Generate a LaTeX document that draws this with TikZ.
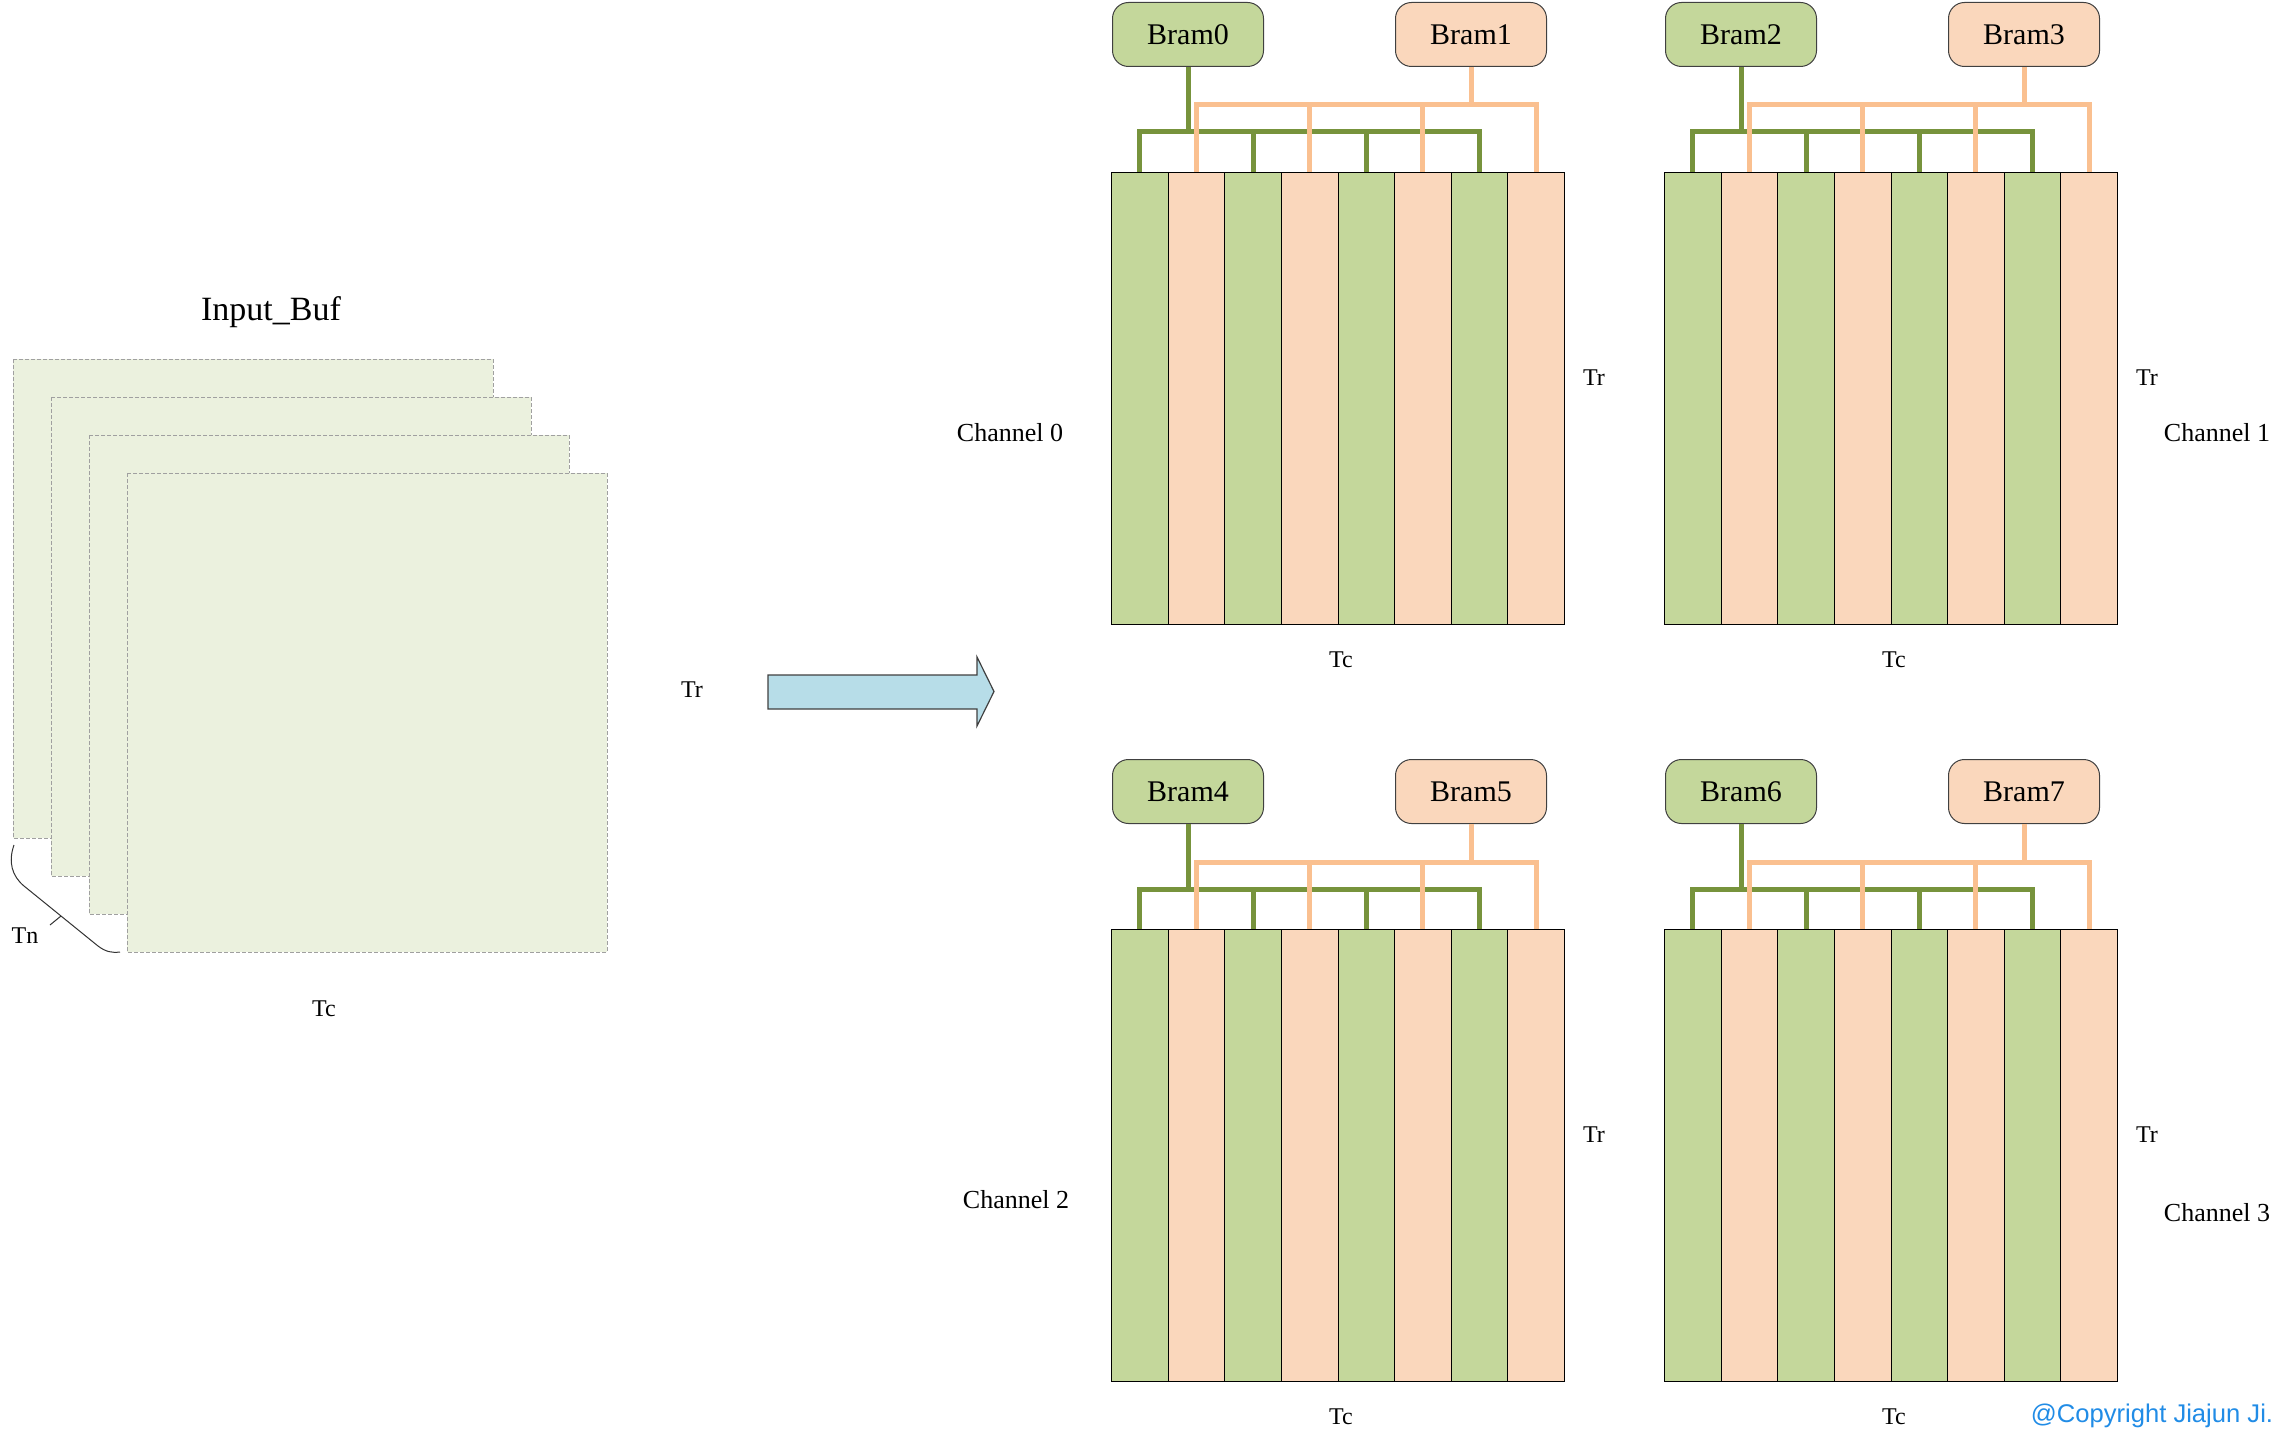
\documentclass[tikz,border=0pt]{standalone}
\usepackage{fontspec}
\setmainfont{Liberation Serif}
\newfontfamily\copyfont{Liberation Sans}
\definecolor{bufgreen}{RGB}{235,241,222}
\definecolor{bufgray}{RGB}{160,160,160}
\definecolor{cellgreen}{RGB}{196,215,155}
\definecolor{cellorange}{RGB}{250,215,188}
\definecolor{linegreen}{RGB}{119,147,60}
\definecolor{lineorange}{RGB}{250,192,144}
\definecolor{arrowblue}{RGB}{183,221,232}
\definecolor{copyblue}{RGB}{33,140,230}
\newcommand\quadblock[5]{%
  % #1 gx, #2 gy, #3 prefix, #4 green bram text, #5 orange bram text
  \foreach \i in {0,...,7}{%
    \pgfmathtruncatemacro\cellpar{mod(\i,2)}%
    \ifnum\cellpar=0
      \node[gcell] (#3c\i) at ({#1+\i*56.625},#2) {};
    \else
      \node[ocell] (#3c\i) at ({#1+\i*56.625},#2) {};
    \fi
  }
  \node[bramg] (#3a) at ({#1+1},{#2-170}) {#4};
  \node[bramo] (#3b) at ({#1+284},{#2-170}) {#5};
  \coordinate (#3gh) at (#1,{#2-40});
  \coordinate (#3oh) at (#1,{#2-67});
  \draw[gline] (#3a.south) -- (#3a.south |- #3gh);
  \draw[gline] (#3c0.north) -- (#3c0.north |- #3gh) -- (#3c6.north |- #3gh) -- (#3c6.north);
  \draw[gline] (#3c2.north) -- (#3c2.north |- #3gh);
  \draw[gline] (#3c4.north) -- (#3c4.north |- #3gh);
  \draw[oline] (#3b.south) -- (#3b.south |- #3oh);
  \draw[oline] (#3c1.north) -- (#3c1.north |- #3oh) -- (#3c7.north |- #3oh) -- (#3c7.north);
  \draw[oline] (#3c3.north) -- (#3c3.north |- #3oh);
  \draw[oline] (#3c5.north) -- (#3c5.north |- #3oh);
  \node[lbl] (#3tr) at ({#1+483},{#2+206}) {Tr};
  \node[lbl] (#3tc) at ({#1+230},{#2+488}) {Tc};
}
\begin{document}
\begin{tikzpicture}[x=0.5pt,y=-0.5pt,
  buf/.style={fill=bufgreen, draw=bufgray, dash pattern=on 2pt off 1pt, line width=0.5pt},
  cellbase/.style={draw=black, line width=0.5pt, minimum width=28.3125pt, minimum height=226pt, inner sep=0pt, anchor=north west},
  gcell/.style={cellbase, fill=cellgreen},
  ocell/.style={cellbase, fill=cellorange},
  brambase/.style={draw=black!75, line width=0.5pt, rounded corners=8pt, minimum width=75.5pt, minimum height=32pt, inner sep=0pt, anchor=north west, font=\fontsize{15}{17}\selectfont},
  bramg/.style={brambase, fill=cellgreen},
  bramo/.style={brambase, fill=cellorange},
  gline/.style={draw=linegreen, line width=2.5pt},
  oline/.style={draw=lineorange, line width=2.5pt},
  lbl/.style={font=\fontsize{12}{14}\selectfont, inner sep=0pt},
  chlbl/.style={font=\fontsize{13}{15}\selectfont, inner sep=0pt}]
\useasboundingbox (0,0) rectangle (2286,1439);
% Input buffer stack
\node[font=\fontsize{17}{19}\selectfont, inner sep=0pt] (title) at (271,312) {Input\_Buf};
\draw[buf] (13,359) rectangle ++(480,479);
\draw[buf] (51,397) rectangle ++(480,479);
\draw[buf] (89,435) rectangle ++(480,479);
\draw[buf] (127,473) rectangle ++(480,479);
% brace
\draw[black!80, line width=0.5pt] (14,845) .. controls (8,862) and (12,876) .. (24,886) -- (98,946) .. controls (106,952) and (112,953) .. (120,952);
\draw[black!80, line width=0.5pt] (61,916) -- (50,925);
\node[lbl] (tn) at (25,936) {Tn};
\node[lbl] (tcin) at (324,1009) {Tc};
\node[lbl] (trin) at (692,690) {Tr};
% big arrow
\draw[fill=arrowblue, draw=black!75, line width=0.6pt] (768,675) -- (977,675) -- (977,657) -- (994,691.5) -- (977,726) -- (977,709) -- (768,709) -- cycle;
% quadrants
\quadblock{1111}{172}{qa}{Bram0}{Bram1}
\quadblock{1664}{172}{qb}{Bram2}{Bram3}
\quadblock{1111}{929}{qc}{Bram4}{Bram5}
\quadblock{1664}{929}{qd}{Bram6}{Bram7}
\node[chlbl] (ch0) at (1010,433) {Channel 0};
\node[chlbl] (ch1) at (2217,433) {Channel 1};
\node[chlbl] (ch2) at (1016,1200) {Channel 2};
\node[chlbl] (ch3) at (2217,1213) {Channel 3};
\node[font=\copyfont\fontsize{12.8}{14}\selectfont, text=copyblue, inner sep=0pt] (copy) at (2152,1416) {@Copyright Jiajun Ji.};
\end{tikzpicture}
\end{document}
